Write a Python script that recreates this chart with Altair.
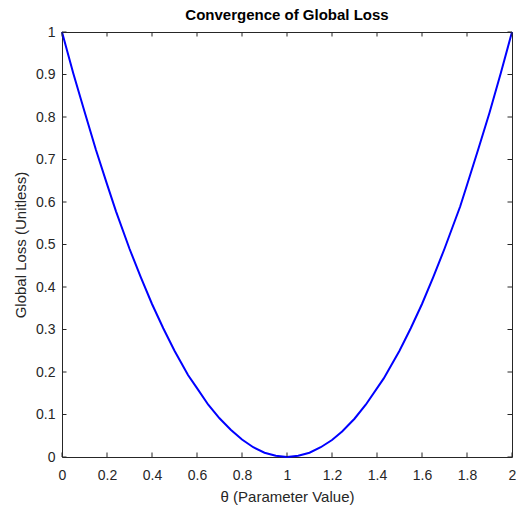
import altair as alt
import pandas as pd

# Sampled global loss over the parameter sweep
theta = [0.0, 0.05, 0.1, 0.15, 0.2, 0.24, 0.3, 0.35, 0.4, 0.45, 0.5, 0.56, 0.6, 0.65,
         0.7, 0.75, 0.8, 0.85, 0.9, 0.95, 1.0, 1.05, 1.1, 1.15, 1.2, 1.245, 1.3, 1.35,
         1.43, 1.5, 1.55, 1.6, 1.65, 1.7, 1.77, 1.8, 1.85, 1.9, 1.95, 2.0]
loss = [1.0, 0.903, 0.813, 0.724, 0.642, 0.578, 0.49, 0.423, 0.36, 0.303, 0.25, 0.193,
        0.162, 0.123, 0.091, 0.064, 0.041, 0.023, 0.01, 0.003, 0.0, 0.003, 0.01, 0.023,
        0.04, 0.06, 0.09, 0.123, 0.185, 0.25, 0.303, 0.36, 0.423, 0.49, 0.59, 0.64,
        0.724, 0.81, 0.903, 1.0]

x_ticks = [0, 0.2, 0.4, 0.6, 0.8, 1.0, 1.2, 1.4, 1.6, 1.8, 2.0]
y_ticks = [0, 0.1, 0.2, 0.3, 0.4, 0.5, 0.6, 0.7, 0.8, 0.9, 1.0]

W, H = 450, 425
TICK = 4.5
AX = "#262626"
FONT = "Liberation Sans"

df = pd.DataFrame({"theta": theta, "loss": loss})
xt = pd.DataFrame({"t": x_ticks})
yt = pd.DataFrame({"t": y_ticks})

xscale = alt.Scale(domain=[0, 2], nice=False, zero=False)
yscale = alt.Scale(domain=[0, 1], nice=False, zero=False)

axis_style = dict(
    grid=False, ticks=False, domain=False, labelFlush=False,
    labelFont=FONT, labelFontSize=14, labelColor=AX,
    titleFont=FONT, titleFontSize=15, titleFontWeight="normal", titleColor=AX,
)
xaxis = alt.Axis(values=x_ticks, format=".1~f", title="θ (Parameter Value)",
                 labelPadding=11, titlePadding=7, **axis_style)
yaxis = alt.Axis(values=y_ticks, format=".1~f", title="Global Loss (Unitless)",
                 labelPadding=7, titlePadding=7, **axis_style)

line = alt.Chart(df).mark_line(color="#0000FF", strokeWidth=2, clip=False).encode(
    x=alt.X("theta:Q", scale=xscale, axis=xaxis),
    y=alt.Y("loss:Q", scale=yscale, axis=yaxis),
)

# Inward tick marks on all four sides of the box
bottom = alt.Chart(xt).mark_rule(color=AX, strokeWidth=1).encode(
    x=alt.X("t:Q", scale=xscale, axis=xaxis), y=alt.value(H), y2=alt.value(H - TICK))
top = alt.Chart(xt).mark_rule(color=AX, strokeWidth=1).encode(
    x=alt.X("t:Q", scale=xscale, axis=xaxis), y=alt.value(0), y2=alt.value(TICK))
left = alt.Chart(yt).mark_rule(color=AX, strokeWidth=1).encode(
    y=alt.Y("t:Q", scale=yscale, axis=yaxis), x=alt.value(0), x2=alt.value(TICK))
right = alt.Chart(yt).mark_rule(color=AX, strokeWidth=1).encode(
    y=alt.Y("t:Q", scale=yscale, axis=yaxis), x=alt.value(W), x2=alt.value(W - TICK))

chart = (
    alt.layer(line, bottom, top, left, right)
    .properties(
        width=W, height=H,
        background="white",
        title=alt.TitleParams("Convergence of Global Loss", fontSize=15, fontWeight="bold",
                              font=FONT, color="#000000", offset=2, anchor="middle"),
        autosize=alt.AutoSizeParams(type="none"),
        padding={"left": 62, "top": 32, "right": 10, "bottom": 53},
    )
    .configure_view(stroke=AX, strokeWidth=1)
)

chart.save("out.html", embed_options={"renderer": "svg", "actions": False})
